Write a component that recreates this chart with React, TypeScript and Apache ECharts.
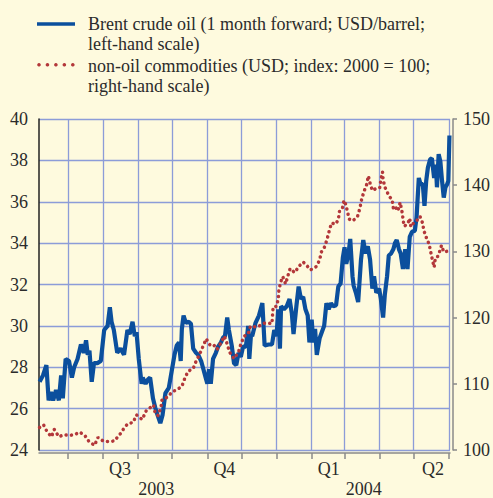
import React, { useEffect, useRef } from 'react';
import * as echarts from 'echarts';

// x values are days counted from 1 June 2003 (day 0)
const brentDay = [
  5, 8, 11, 13, 15, 17, 19.5, 22, 24, 25.5, 28, 31, 33.5, 35.5, 38.5, 41.5, 44, 46, 47.5, 49,
  51, 53, 56, 59, 62, 65, 67, 68.5, 70.5, 73.5, 76.5, 79.5, 82.5, 84.5, 87, 89, 90.5, 92.5, 95, 96,
  98.5, 100.5, 102.5, 105, 107, 109, 111.5, 113.5, 116, 119, 121.5, 124, 126, 128, 129.5, 130.5, 132, 134, 136.5, 138.5,
  140.5, 143, 145, 147.5, 149.5, 151.5, 153, 154.5, 156, 158, 160.5, 162.5, 165, 167, 168.5, 170.5, 172, 174.5, 176.5, 178.5,
  180.5, 182.5, 184.5, 187, 189, 190, 191.5, 192.5, 195.5, 198.5, 201.5, 203.5, 207, 210, 212, 214, 215.5, 217, 218, 220.5,
  223, 225.5, 227.5, 229, 231.5, 233.5, 235.5, 237.5, 239.5, 241.5, 243, 245, 246.5, 248, 249.5, 252, 254, 256, 258, 260,
  262, 264, 266.5, 268.5, 270.5, 272.5, 274, 275.5, 277.5, 279, 281, 282, 284, 286, 288.5, 290.5, 292.5, 294.5, 296.5, 298.5,
  300, 302, 304.5, 306, 308, 309.5, 311.5, 313, 315, 317, 318.5, 320, 322, 323.5, 325.5, 327.5, 329.5, 331.5, 333.5, 336,
  337.5, 339.5, 341, 343, 344.5, 346, 347.5, 349.5, 351, 353, 354.5, 355.5, 357, 358.5, 360, 361.5, 363, 364.5, 365.5, 366.5,
];
const brentValue = [
  27.3, 27.6, 28.1, 26.4, 26.8, 26.4, 26.9, 26.4, 27.6, 26.5, 28.4, 28.3, 27.5, 28.0, 28.4, 29.1, 28.7, 29.3, 28.6, 28.8,
  27.3, 28.2, 28.2, 28.3, 29.8, 30.0, 30.9, 30.2, 29.8, 28.7, 28.9, 28.6, 29.8, 29.6, 30.2, 29.5, 29.7, 28.4, 27.2, 27.5,
  27.2, 27.4, 27.5, 26.5, 26.05, 25.7, 25.3, 25.7, 26.75, 27.0, 27.8, 28.6, 29.05, 29.2, 28.3, 29.85, 30.5, 30.15, 30.2, 30.1,
  28.9, 28.7, 28.6, 28.3, 27.9, 27.5, 27.2, 27.9, 27.2, 28.4, 28.7, 29.0, 29.2, 29.45, 29.5, 30.4, 29.8, 29.05, 28.2, 28.1,
  28.7, 28.5, 29.0, 29.0, 30.0, 28.4, 29.6, 29.5, 30.15, 30.5, 31.1, 29.05, 29.1, 29.1, 29.8, 29.5, 30.8, 28.9, 30.95, 30.8,
  30.95, 31.3, 30.6, 29.6, 30.95, 31.9, 31.3, 31.4, 30.8, 30.5, 29.2, 30.3, 29.2, 29.85, 28.6, 29.4, 29.7, 30.0, 31.1, 30.8,
  31.1, 30.95, 31.0, 31.9, 32.05, 33.3, 33.8, 33.0, 33.5, 34.2, 32.4, 31.95, 31.6, 31.15, 33.2, 34.15, 33.5, 33.85, 33.2, 31.8,
  32.4, 31.6, 31.8, 31.3, 30.4, 31.5, 32.4, 33.4, 33.5, 33.7, 34.0, 34.15, 33.7, 33.5, 32.75, 33.7, 32.75, 34.3, 34.55, 34.6,
  35.25, 37.15, 36.85, 36.85, 35.8, 37.0, 37.65, 38.05, 38.1, 37.15, 37.8, 36.7, 38.3, 37.95, 37.0, 36.2, 36.7, 36.85, 37.0, 39.2,
];

const nonOilDay = [
  5, 8.5, 11.5, 15.5, 18, 22, 26.5, 30.5, 36, 40, 44.5, 48.5, 53.5, 56.5, 61.5, 64, 68.5, 71.5, 73.5, 76.5,
  79.5, 83, 87.5, 90.5, 95.5, 99, 102.5, 105.5, 107, 109.5, 112, 113, 118, 122, 126, 130.5, 133, 136, 140.5, 143,
  146, 149, 152, 155.5, 158.5, 161.5, 165, 168, 170.5, 172.5, 176.5, 180.5, 182.5, 185.5, 189, 191, 194, 197.5, 202, 204.5,
  210, 210.5, 211, 214, 215.5, 216, 217.5, 219.5, 222, 224, 226, 230, 234, 237.5, 241, 244, 249, 252, 253.5, 256.5,
  258.5, 260.5, 262.5, 266, 268.5, 269.5, 272, 273.5, 274.5, 276.5, 278, 280.5, 282.5, 285.5, 287.5, 289, 291, 293.5, 295, 296.5,
  298.5, 303, 305, 306, 307.5, 308, 309.5, 311.5, 312.5, 316, 317, 318.5, 320.5, 322, 323, 324.5, 325.5, 326.5, 329.5, 331.5,
  332.5, 334.5, 337.5, 340.5, 343, 344, 345.5, 346.5, 348.5, 350, 351.5, 353, 354, 355.5, 357.5, 359.5, 361.5, 364,
];
const nonOilValue = [
  103.4, 103.8, 102.8, 102.0, 103.1, 102.0, 102.3, 102.2, 102.3, 102.7, 102.3, 101.3, 100.7, 101.9, 101.3, 101.3, 101.3, 101.4, 101.9, 102.5,
  103.3, 104.0, 104.15, 105.3, 104.6, 105.9, 106.4, 106.8, 105.5, 105.2, 106.4, 107.6, 108.0, 108.8, 109.1, 109.6, 110.8, 111.9, 112.3, 113.4,
  114.4, 115.6, 116.8, 115.8, 115.9, 115.2, 116.2, 117.2, 116.0, 114.8, 113.8, 114.8, 116.0, 117.2, 117.5, 118.7, 118.6, 118.6, 119.1, 119.2,
  119.1, 120.5, 121.6, 121.7, 122.8, 124.0, 125.3, 126.2, 125.1, 126.3, 127.4, 126.8, 127.8, 128.4, 127.8, 127.2, 127.7, 128.7, 129.9, 130.7,
  131.8, 133.1, 134.3, 134.1, 134.8, 136.05, 136.4, 137.7, 137.4, 136.1, 134.9, 134.6, 134.8, 135.3, 136.5, 137.8, 139.0, 140.1, 141.4, 140.3,
  139.2, 139.6, 139.6, 140.8, 142.0, 140.9, 139.7, 139.1, 138.5, 137.8, 136.6, 136.9, 136.1, 136.6, 137.4, 136.2, 135.0, 133.8, 134.1, 135.0,
  133.7, 134.2, 134.6, 135.3, 134.2, 133.0, 132.6, 131.75, 131.2, 129.9, 128.7, 127.6, 128.9, 129.0, 129.8, 130.9, 129.9, 130.0,
];

// month boundaries (1 Jul 2003 ... 1 Jun 2004), days since 1 June 2003
const monthStartDay = [30, 61, 92, 122, 153, 183, 214, 245, 274, 305, 335, 366];
const quarterLabels = ['Q3', 'Q4', 'Q1', 'Q2'];
const quarterLabelDay = [76, 168, 260, 352];
const yearLabels = ['2003', '2004'];
const yearLabelDay = [108, 291];

const legendBrent = 'Brent crude oil (1 month forward; USD/barrel;\nleft-hand scale)';
const legendNonOil = 'non-oil commodities (USD; index: 2000 = 100;\nright-hand scale)';

const BG = '#fefade';
const BLUE = '#0b4f9d';
const RED = '#b3373a';
const GRID = '#8c9cd8';
const AXIS_GREY = '#8a8a8a';
const TEXT = '#2b2b2b';
const FONT = 'Liberation Serif';

export default function App() {
  const ref = useRef<HTMLDivElement>(null);

  useEffect(() => {
    document.body.style.margin = '0';
    document.body.style.background = BG;
    const chart = echarts.init(ref.current!, null, { renderer: 'svg' });
    const xMin = 4.5;
    const xMax = 367;
    const baseX = {
      type: 'value',
      min: xMin,
      max: xMax,
      position: 'bottom',
      offset: 3,
    };
    // legend swatch: five dots of the dotted line
    const legendDots = [0, 1, 2, 3, 4].map((i) => ({
      type: 'circle',
      shape: { cx: 39 + i * 8.45, cy: 64.7, r: 1.8 },
      style: { fill: RED },
    }));
    chart.setOption({
      animation: false,
      backgroundColor: BG,
      textStyle: { fontFamily: FONT },
      grid: { left: 39, right: 41, top: 119, bottom: 42 },
      graphic: [
        { type: 'line', shape: { x1: 37, y1: 24, x2: 75, y2: 24 }, style: { stroke: BLUE, lineWidth: 3.5 } },
        {
          type: 'text', x: 88, y: 14,
          style: { text: legendBrent, fontSize: 18, fontFamily: FONT, fill: TEXT, lineHeight: 20, verticalAlign: 'top' },
        },
        ...legendDots,
        {
          type: 'text', x: 88, y: 56,
          style: { text: legendNonOil, fontSize: 18, fontFamily: FONT, fill: TEXT, lineHeight: 20, verticalAlign: 'top' },
        },
      ],
      xAxis: [
        {
          ...baseX,
          axisLine: { show: true, lineStyle: { color: AXIS_GREY, width: 1.5 } },
          axisTick: { show: true, customValues: monthStartDay, length: 6, lineStyle: { color: AXIS_GREY, width: 1.5 } },
          splitLine: { show: true, customValues: monthStartDay, lineStyle: { color: GRID, width: 1.3 } },
          axisLabel: { show: false },
        },
        {
          ...baseX,
          axisLine: { show: false },
          axisTick: { show: false },
          splitLine: { show: false },
          axisLabel: {
            show: true, customValues: quarterLabelDay, margin: 7,
            fontSize: 18, fontFamily: FONT, color: TEXT,
            formatter: (v: number) => quarterLabels[quarterLabelDay.indexOf(v)] ?? '',
          },
        },
        {
          ...baseX,
          axisLine: { show: false },
          axisTick: { show: false },
          splitLine: { show: false },
          axisLabel: {
            show: true, customValues: yearLabelDay, margin: 27,
            fontSize: 18, fontFamily: FONT, color: TEXT,
            formatter: (v: number) => yearLabels[yearLabelDay.indexOf(v)] ?? '',
          },
        },
      ],
      yAxis: [
        {
          type: 'value', min: 24, max: 40, interval: 2, position: 'left',
          axisLine: { show: true, lineStyle: { color: '#222', width: 1.5 } },
          axisTick: { show: false },
          splitLine: { show: true, lineStyle: { color: GRID, width: 1.3 } },
          axisLabel: { fontSize: 18, fontFamily: FONT, color: TEXT, margin: 11 },
        },
        {
          type: 'value', min: 100, max: 150, interval: 10, position: 'right', offset: 3,
          axisLine: { show: true, lineStyle: { color: AXIS_GREY, width: 1.5 } },
          axisTick: { show: true, length: 4, lineStyle: { color: AXIS_GREY, width: 1.5 } },
          splitLine: { show: false },
          axisLabel: { fontSize: 18, fontFamily: FONT, color: TEXT, margin: 10 },
        },
      ],
      series: [
        {
          name: 'Brent crude oil',
          type: 'line',
          xAxisIndex: 0,
          yAxisIndex: 0,
          showSymbol: false,
          data: brentDay.map((d, i) => [d, brentValue[i]]),
          lineStyle: { color: BLUE, width: 4.2 },
          z: 3,
        },
        {
          name: 'non-oil commodities',
          type: 'line',
          xAxisIndex: 0,
          yAxisIndex: 1,
          showSymbol: false,
          data: nonOilDay.map((d, i) => [d, nonOilValue[i]]),
          lineStyle: { color: RED, width: 3.5, type: [0.1, 5.3], cap: 'round' },
          z: 4,
        },
      ],
    });
    return () => chart.dispose();
  }, []);

  return <div ref={ref} style={{ width: 493, height: 498 }} />;
}
